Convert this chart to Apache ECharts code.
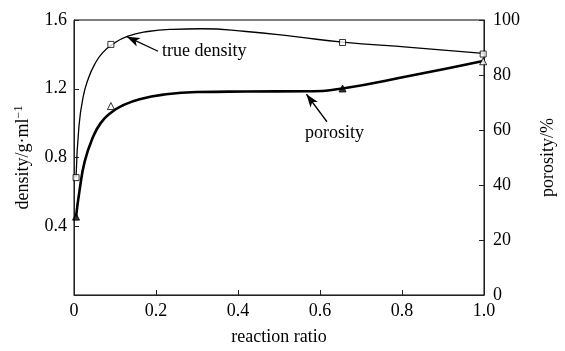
<!DOCTYPE html>
<html lang="en">
<head>
    <meta charset="UTF-8">
    <title>density / porosity</title>
    <script src="https://cdn.jsdelivr.net/npm/echarts@6/dist/echarts.min.js"></script>
    <style>
        *{
            margin:0;
            padding:0;
        }
        #main {
            width: 565px;
            height: 351px;
            background: #fff;
        }
    </style>
</head>
<body>
<div id="main"></div>
<script>
    // measured points
    var reactionRatio = [0.005, 0.09, 0.655, 0.998];
    var trueDensity = [0.683, 1.458, 1.469, 1.402];
    var porosity = [28.5, 68.7, 75.1, 85.0];
    var porosityFilled = [true, false, true, false];

    // fitted curves
    var densityFitX = [0.005, 0.012, 0.022, 0.035, 0.05, 0.07, 0.095, 0.13, 0.18, 0.24, 0.31, 0.42, 0.54, 0.655, 0.82, 0.998];
    var densityFitY = [0.683, 0.98, 1.15, 1.26, 1.34, 1.41, 1.46, 1.505, 1.533, 1.546, 1.549, 1.533, 1.503, 1.471, 1.441, 1.406];
    var porosityFitX = [0.005, 0.014, 0.026, 0.045, 0.065, 0.09, 0.12, 0.16, 0.22, 0.3, 0.42, 0.57, 0.655, 0.82, 0.998];
    var porosityFitY = [28.5, 38.5, 48.5, 57.0, 62.5, 66.3, 69.0, 71.2, 72.9, 73.8, 74.0, 74.1, 75.1, 79.7, 85.1];

    var xTicks = [0, 0.2, 0.4, 0.6, 0.8, 1.0];
    var densityTicks = [0, 0.4, 0.8, 1.2, 1.6];
    var porosityTicks = [0, 20, 40, 60, 80, 100];

    function pairs(xs, ys) {
        return xs.map(function (x, i) { return [x, ys[i]]; });
    }

    var font = 'Liberation Serif';

    var app = echarts.init(document.getElementById('main'));

    var option = {
        animation: false,
        textStyle: { fontFamily: font, color: '#000' },
        grid: {
            left: 74, right: 68, top: 20, bottom: 49,
            show: true, borderColor: '#000', borderWidth: 1
        },
        xAxis: {
            type: 'value',
            min: xTicks[0], max: xTicks[xTicks.length - 1], interval: 0.2,
            name: 'reaction ratio',
            nameLocation: 'middle', nameGap: 33,
            nameTextStyle: { fontFamily: font, fontSize: 18, color: '#000' },
            axisLine: { lineStyle: { color: '#222', width: 1 } },
            axisTick: { inside: true, length: 5, lineStyle: { color: '#222' } },
            axisLabel: {
                fontFamily: font, fontSize: 18, color: '#000', margin: 7,
                formatter: function (v) { return v === 0 ? '0' : v.toFixed(1); }
            },
            splitLine: { show: false }
        },
        yAxis: [
            {
                type: 'value',
                min: densityTicks[0], max: densityTicks[densityTicks.length - 1], interval: 0.4,
                name: '{n|density/g·ml}{s|−1}',
                nameLocation: 'middle', nameGap: 41, nameRotate: 90,
                nameTextStyle: {
                    rich: {
                        n: { fontFamily: font, fontSize: 18, color: '#000' },
                        s: { fontFamily: font, fontSize: 12, color: '#000', verticalAlign: 'top', padding: [0, 0, 8, 0] }
                    }
                },
                axisLine: { show: true, lineStyle: { color: '#222', width: 1 } },
                axisTick: { show: true, inside: true, length: 5, lineStyle: { color: '#222' } },
                axisLabel: {
                    fontFamily: font, fontSize: 18, color: '#000', margin: 7,
                    formatter: function (v) { return v === 0 ? '' : v.toFixed(1); }
                },
                splitLine: { show: false }
            },
            {
                type: 'value',
                position: 'right',
                min: porosityTicks[0], max: porosityTicks[porosityTicks.length - 1], interval: 20,
                name: 'porosity/%',
                nameLocation: 'middle', nameGap: 55, nameRotate: 90,
                nameTextStyle: { fontFamily: font, fontSize: 18, color: '#000' },
                axisLine: { show: true, lineStyle: { color: '#222', width: 1 } },
                axisTick: { show: true, inside: true, length: 5, lineStyle: { color: '#222' } },
                axisLabel: { fontFamily: font, fontSize: 18, color: '#000', margin: 9 },
                splitLine: { show: false }
            }
        ],
        series: [
            {
                name: 'true density fit',
                type: 'line',
                data: pairs(densityFitX, densityFitY),
                smooth: 0.5,
                showSymbol: false,
                lineStyle: { color: '#000', width: 1.3 },
                markLine: {
                    silent: true,
                    symbol: ['none', 'arrow'],
                    symbolSize: [7, 13],
                    label: { show: false },
                    lineStyle: { color: '#000', width: 1.3, type: 'solid' },
                    data: [[{ coord: [0.205, 1.418] }, { coord: [0.129, 1.503] }]]
                }
            },
            {
                name: 'porosity fit',
                type: 'line',
                yAxisIndex: 1,
                data: pairs(porosityFitX, porosityFitY),
                smooth: 0.5,
                showSymbol: false,
                lineStyle: { color: '#000', width: 2.6 },
                markLine: {
                    silent: true,
                    symbol: ['none', 'arrow'],
                    symbolSize: [7, 13],
                    label: { show: false },
                    lineStyle: { color: '#000', width: 1.3, type: 'solid' },
                    data: [[{ coord: [0.617, 63.0] }, { coord: [0.567, 73.0] }]]
                }
            },
            {
                name: 'true density',
                type: 'scatter',
                data: pairs(reactionRatio, trueDensity),
                symbol: 'rect',
                symbolSize: 6,
                z: 5,
                itemStyle: { color: '#fff', borderColor: '#000', borderWidth: 1 }
            },
            {
                name: 'porosity',
                type: 'scatter',
                yAxisIndex: 1,
                data: reactionRatio.map(function (x, i) {
                    return {
                        value: [x, porosity[i]],
                        itemStyle: { color: porosityFilled[i] ? '#000' : '#fff' }
                    };
                }),
                symbol: 'triangle',
                symbolSize: 7,
                z: 5,
                itemStyle: { borderColor: '#000', borderWidth: 1 }
            }
        ],
        graphic: [
            {
                type: 'text', left: 162, top: 42,
                style: { text: 'true density', font: '18px "Liberation Serif"', fill: '#000' }
            },
            {
                type: 'text', left: 305, top: 124,
                style: { text: 'porosity', font: '18px "Liberation Serif"', fill: '#000' }
            }
        ]
    };

    app.setOption(option);
</script>
</body>
</html>
